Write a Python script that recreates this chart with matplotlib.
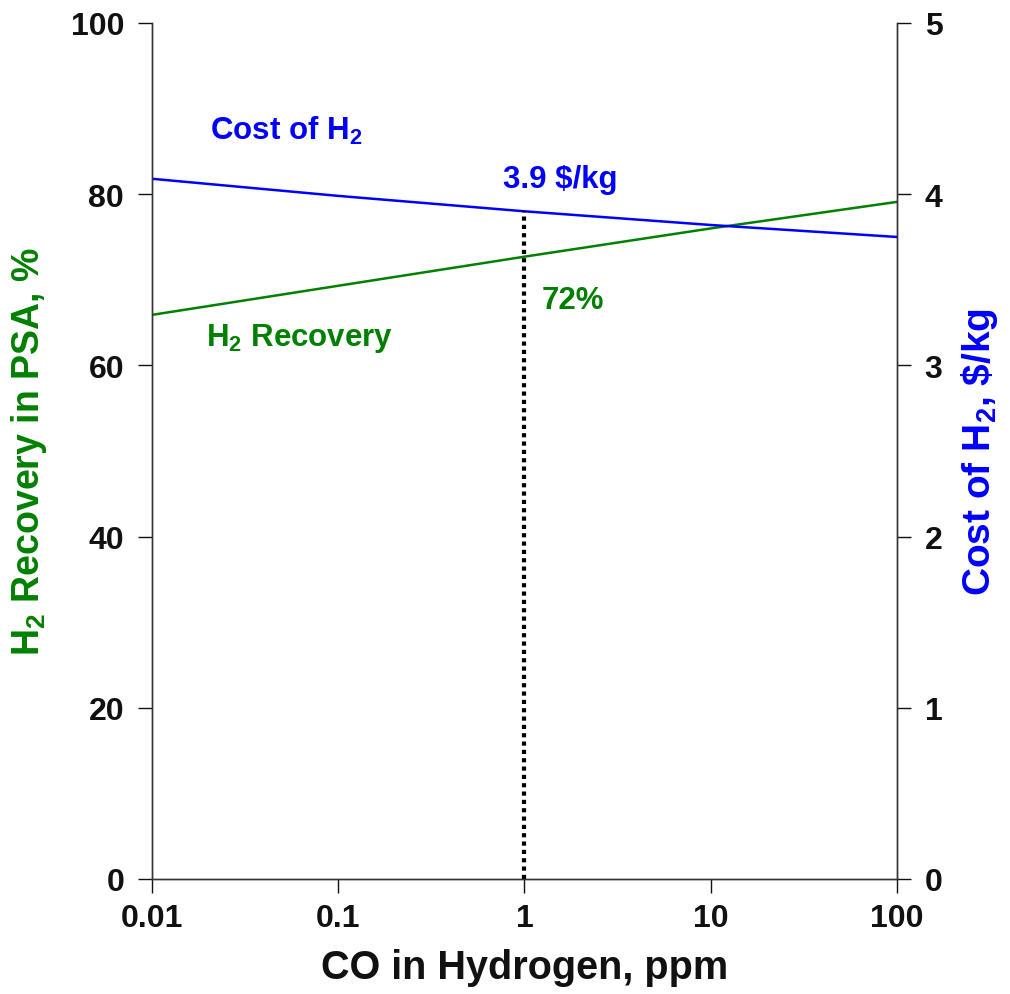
import matplotlib
matplotlib.use("Agg")
import matplotlib.pyplot as plt
from matplotlib.ticker import FixedLocator, FixedFormatter, NullLocator

plt.rcParams['font.family'] = ['Liberation Sans', 'DejaVu Sans']
plt.rcParams['font.weight'] = 'bold'
plt.rcParams['mathtext.fontset'] = 'custom'
plt.rcParams['mathtext.rm'] = 'Liberation Sans:bold'
plt.rcParams['mathtext.default'] = 'rm'

# Data
co_ppm = [0.01, 0.1, 1, 10, 100]
h2_recovery = [65.9, 69.3, 72.7, 76.0, 79.1]
h2_cost = [4.09, 3.99, 3.90, 3.82, 3.75]
marker_x = 1
marker_cost = 3.9
x_ticks = [0.01, 0.1, 1, 10, 100]
x_labels = ['0.01', '0.1', '1', '10', '100']
left_ticks = [0, 20, 40, 60, 80, 100]
right_ticks = [0, 1, 2, 3, 4, 5]

fig = plt.figure(figsize=(10.1, 9.95), dpi=100)
ax = fig.add_axes([0.1505, 0.1156, 0.7376, 0.8603])
ax2 = ax.twinx()

ax.plot(co_ppm, h2_recovery, color='#008000', lw=1.8)
ax2.plot(co_ppm, h2_cost, color='#0000ff', lw=1.8)
ax2.plot([marker_x, marker_x], [0, marker_cost], color='black', lw=3, ls=(0, (1, 1)))

ax.set_xscale('log')
ax.set_xlim(0.01, 100)
ax.set_ylim(0, 100)
ax2.set_ylim(0, 5)
ax.xaxis.set_major_locator(FixedLocator(x_ticks))
ax.xaxis.set_major_formatter(FixedFormatter(x_labels))
ax.xaxis.set_minor_locator(NullLocator())
ax.set_yticks(left_ticks)
ax2.set_yticks(right_ticks)

for a in (ax, ax2):
    a.tick_params(direction='out', length=10, width=1, labelsize=23, colors='#111111', pad=10)
    for s in a.spines.values():
        s.set_color('#333333')
        s.set_linewidth(1)
ax.spines['top'].set_visible(False)
ax2.spines['top'].set_visible(False)
ax.tick_params(axis='x', pad=7)

ax.set_xlabel('CO in Hydrogen, ppm', fontsize=28.5, fontweight='bold', color='#111111', labelpad=11)
ax.set_ylabel('H$_2$ Recovery in PSA, %', fontsize=27, fontweight='bold', color='#008000', labelpad=16)
ax2.set_ylabel('Cost of H$_2$, \\$/kg', fontsize=28, fontweight='bold', color='#0000ff', labelpad=12)

ax.text(0.0205, 87.5, 'Cost of H$_2$', fontsize=22.5, color='#0000ff', fontweight='bold', va='center', ha='left')
ax.text(0.77, 81.8, '3.9 \\$/kg', fontsize=22.5, color='#0000ff', fontweight='bold', va='center', ha='left')
ax.text(1.23, 67.6, '72%', fontsize=22.5, color='#008000', fontweight='bold', va='center', ha='left')
ax.text(0.0195, 63.3, 'H$_2$ Recovery', fontsize=22.5, color='#008000', fontweight='bold', va='center', ha='left')

fig.savefig('out.png', dpi=100)
